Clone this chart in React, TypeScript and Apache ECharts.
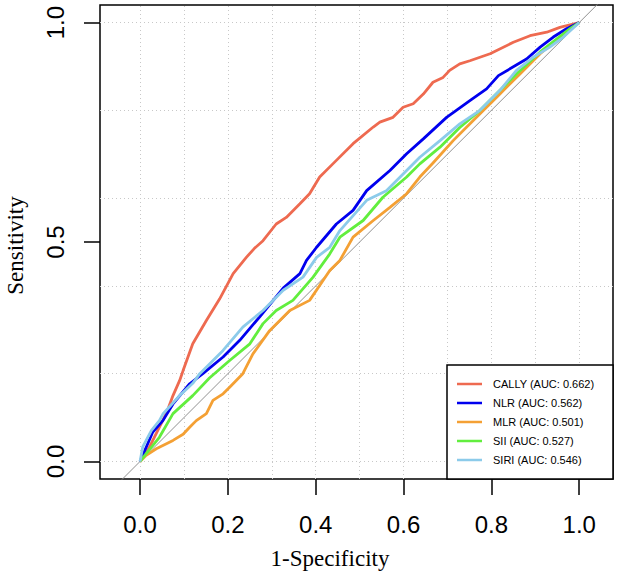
import React, { useEffect, useRef } from "react";
import * as echarts from "echarts";

const seriesNames = [
  "CALLY (AUC: 0.662)",
  "NLR (AUC: 0.562)",
  "MLR (AUC: 0.501)",
  "SII (AUC: 0.527)",
  "SIRI (AUC: 0.546)",
];
const seriesColors = ["#EE6A50", "#0000EE", "#F4A034", "#62EE3E", "#8CCBEA"];

const callyFpr = [0, 0.02, 0.037, 0.06, 0.075, 0.09, 0.098, 0.12, 0.151, 0.181, 0.212, 0.242, 0.26, 0.28, 0.31, 0.333, 0.364, 0.386, 0.409, 0.439, 0.485, 0.531, 0.546, 0.576, 0.599, 0.622, 0.645, 0.667, 0.69, 0.705, 0.728, 0.751, 0.797, 0.85, 0.888, 0.926, 0.956, 0.979, 1.0];
const callyTpr = [0, 0.03, 0.064, 0.11, 0.15, 0.184, 0.207, 0.268, 0.321, 0.37, 0.428, 0.465, 0.485, 0.503, 0.541, 0.556, 0.587, 0.61, 0.648, 0.678, 0.724, 0.762, 0.773, 0.784, 0.807, 0.815, 0.837, 0.864, 0.875, 0.891, 0.906, 0.913, 0.929, 0.955, 0.97, 0.978, 0.989, 0.995, 1.0];

const nlrFpr = [0, 0.029, 0.052, 0.075, 0.113, 0.143, 0.189, 0.227, 0.272, 0.299, 0.326, 0.364, 0.379, 0.402, 0.447, 0.485, 0.516, 0.569, 0.607, 0.645, 0.698, 0.751, 0.789, 0.816, 0.88, 0.911, 0.941, 0.971, 1.0];
const nlrTpr = [0, 0.067, 0.093, 0.131, 0.177, 0.2, 0.238, 0.276, 0.329, 0.362, 0.395, 0.428, 0.458, 0.488, 0.541, 0.572, 0.617, 0.663, 0.701, 0.735, 0.784, 0.822, 0.849, 0.879, 0.917, 0.944, 0.967, 0.986, 1.0];

const mlrFpr = [0, 0.014, 0.037, 0.075, 0.098, 0.113, 0.128, 0.151, 0.166, 0.189, 0.204, 0.234, 0.257, 0.295, 0.341, 0.386, 0.432, 0.455, 0.485, 0.531, 0.569, 0.607, 0.637, 0.667, 0.713, 0.766, 0.812, 0.865, 0.911, 0.956, 1.0];
const mlrTpr = [0, 0.014, 0.029, 0.048, 0.062, 0.078, 0.093, 0.109, 0.139, 0.154, 0.169, 0.2, 0.245, 0.298, 0.344, 0.367, 0.435, 0.458, 0.511, 0.549, 0.579, 0.61, 0.648, 0.68, 0.731, 0.784, 0.83, 0.883, 0.929, 0.967, 1.0];

const siiFpr = [0, 0.014, 0.044, 0.075, 0.12, 0.158, 0.204, 0.25, 0.28, 0.31, 0.348, 0.394, 0.432, 0.455, 0.508, 0.553, 0.607, 0.637, 0.683, 0.728, 0.774, 0.819, 0.857, 0.911, 0.949, 0.979, 1.0];
const siiTpr = [0, 0.018, 0.055, 0.109, 0.15, 0.19, 0.23, 0.268, 0.314, 0.344, 0.367, 0.42, 0.473, 0.511, 0.549, 0.602, 0.648, 0.678, 0.716, 0.761, 0.8, 0.845, 0.883, 0.933, 0.963, 0.986, 1.0];

const siriFpr = [0, 0.006, 0.026, 0.044, 0.052, 0.09, 0.12, 0.136, 0.189, 0.234, 0.28, 0.326, 0.371, 0.402, 0.432, 0.455, 0.516, 0.561, 0.607, 0.637, 0.683, 0.728, 0.774, 0.819, 0.857, 0.895, 0.933, 0.964, 1.0];
const siriTpr = [0, 0.033, 0.071, 0.093, 0.108, 0.15, 0.178, 0.2, 0.253, 0.306, 0.344, 0.39, 0.42, 0.465, 0.488, 0.526, 0.595, 0.617, 0.663, 0.693, 0.731, 0.769, 0.8, 0.845, 0.891, 0.921, 0.944, 0.967, 1.0];

const xTicks = [0, 0.2, 0.4, 0.6, 0.8, 1.0];
const yTicks = [0, 0.5, 1.0];
const gridX = [0, 0.1, 0.2, 0.3, 0.4, 0.5, 0.6, 0.7, 0.8, 0.9, 1.0];
const gridY = [0, 0.2, 0.4, 0.6, 0.8, 1.0];
const diagonal = [-0.2, 1.2];

const xTitle = "1-Specificity";
const yTitle = "Sensitivity";

const zip = (a: number[], b: number[]) => a.map((v, i) => [v, b[i]]);

export default function App() {
  const ref = useRef<HTMLDivElement>(null);
  useEffect(() => {
    if (!ref.current) return;
    const chart = echarts.init(ref.current, undefined, { renderer: "svg" });
    const curves = [
      zip(callyFpr, callyTpr),
      zip(nlrFpr, nlrTpr),
      zip(mlrFpr, mlrTpr),
      zip(siiFpr, siiTpr),
      zip(siriFpr, siriTpr),
    ];
    const sans = "'Liberation Sans', Arial, Helvetica, sans-serif";
    const serif = "'Liberation Serif', 'Times New Roman', serif";
    const option: any = {
      animation: false,
      backgroundColor: "#ffffff",
      grid: {
        left: 100,
        top: 5,
        right: 11,
        bottom: 100,
        show: true,
        borderColor: "#000",
        borderWidth: 1.5,
        backgroundColor: "transparent",
        containLabel: false,
      },
      xAxis: {
        type: "value",
        min: -0.0912,
        max: 1.0769,
        axisLine: { show: false, onZero: false },
        splitLine: { show: false },
        axisTick: {
          show: true,
          customValues: xTicks,
          length: 16,
          lineStyle: { color: "#000", width: 1.5 },
        },
        axisLabel: {
          customValues: xTicks,
          formatter: (v: number) => v.toFixed(1),
          fontSize: 24,
          fontFamily: sans,
          color: "#000",
          margin: 33,
        },
      },
      yAxis: {
        type: "value",
        min: -0.04,
        max: 1.04,
        axisLine: { show: false, onZero: false },
        splitLine: { show: false },
        axisTick: {
          show: true,
          customValues: yTicks,
          length: 16,
          lineStyle: { color: "#000", width: 1.5 },
        },
        axisLabel: {
          customValues: yTicks,
          formatter: (v: number) => v.toFixed(1),
          fontSize: 24,
          fontFamily: sans,
          color: "#000",
          rotate: 90,
          margin: 33,
        },
      },
      legend: {
        orient: "vertical",
        left: 457,
        top: 374.5,
        padding: 0,
        itemGap: 0,
        itemWidth: 25,
        itemHeight: 2.5,
        icon: "rect",
        z: 10,
        data: seriesNames,
        textStyle: {
          fontSize: 11,
          fontFamily: sans,
          color: "#000",
          lineHeight: 19,
          padding: [0, 0, 0, 6],
        },
      },
      graphic: [
        {
          type: "rect",
          z: 8,
          shape: { x: 447, y: 365, width: 166, height: 114 },
          style: { fill: "#fff", stroke: "#000", lineWidth: 1.5 },
        },
        {
          type: "text",
          x: 330,
          y: 558,
          style: {
            text: xTitle,
            fontSize: 23,
            fontFamily: serif,
            fill: "#000",
            align: "center",
            verticalAlign: "middle",
          },
        },
        {
          type: "text",
          x: 15,
          y: 245.5,
          rotation: Math.PI / 2,
          style: {
            text: yTitle,
            fontSize: 23,
            fontFamily: serif,
            fill: "#000",
            align: "center",
            verticalAlign: "middle",
          },
        },
      ],
      series: [
        {
          type: "line",
          name: "diagonal",
          data: diagonal.map((v) => [v, v]),
          showSymbol: false,
          silent: true,
          z: 1,
          lineStyle: { color: "#909090", width: 1 },
          markLine: {
            z: 0,
            silent: true,
            symbol: ["none", "none"],
            label: { show: false },
            lineStyle: { color: "#c8c8c8", type: [1, 3], width: 1 },
            data: [
              ...gridX.map((v) => ({ xAxis: v })),
              ...gridY.map((v) => ({ yAxis: v })),
            ],
          },
        },
        ...curves.map((d, i) => ({
          type: "line",
          name: seriesNames[i],
          data: d,
          showSymbol: false,
          symbol: "none",
          color: seriesColors[i],
          itemStyle: { color: seriesColors[i] },
          lineStyle: { color: seriesColors[i], width: 2.8 },
          z: 2 + i,
        })),
      ],
    };
    chart.setOption(option);
    return () => chart.dispose();
  }, []);
  return (
    <div
      ref={ref}
      style={{ position: "fixed", left: 0, top: 0, width: 624, height: 579, background: "#fff" }}
    />
  );
}
